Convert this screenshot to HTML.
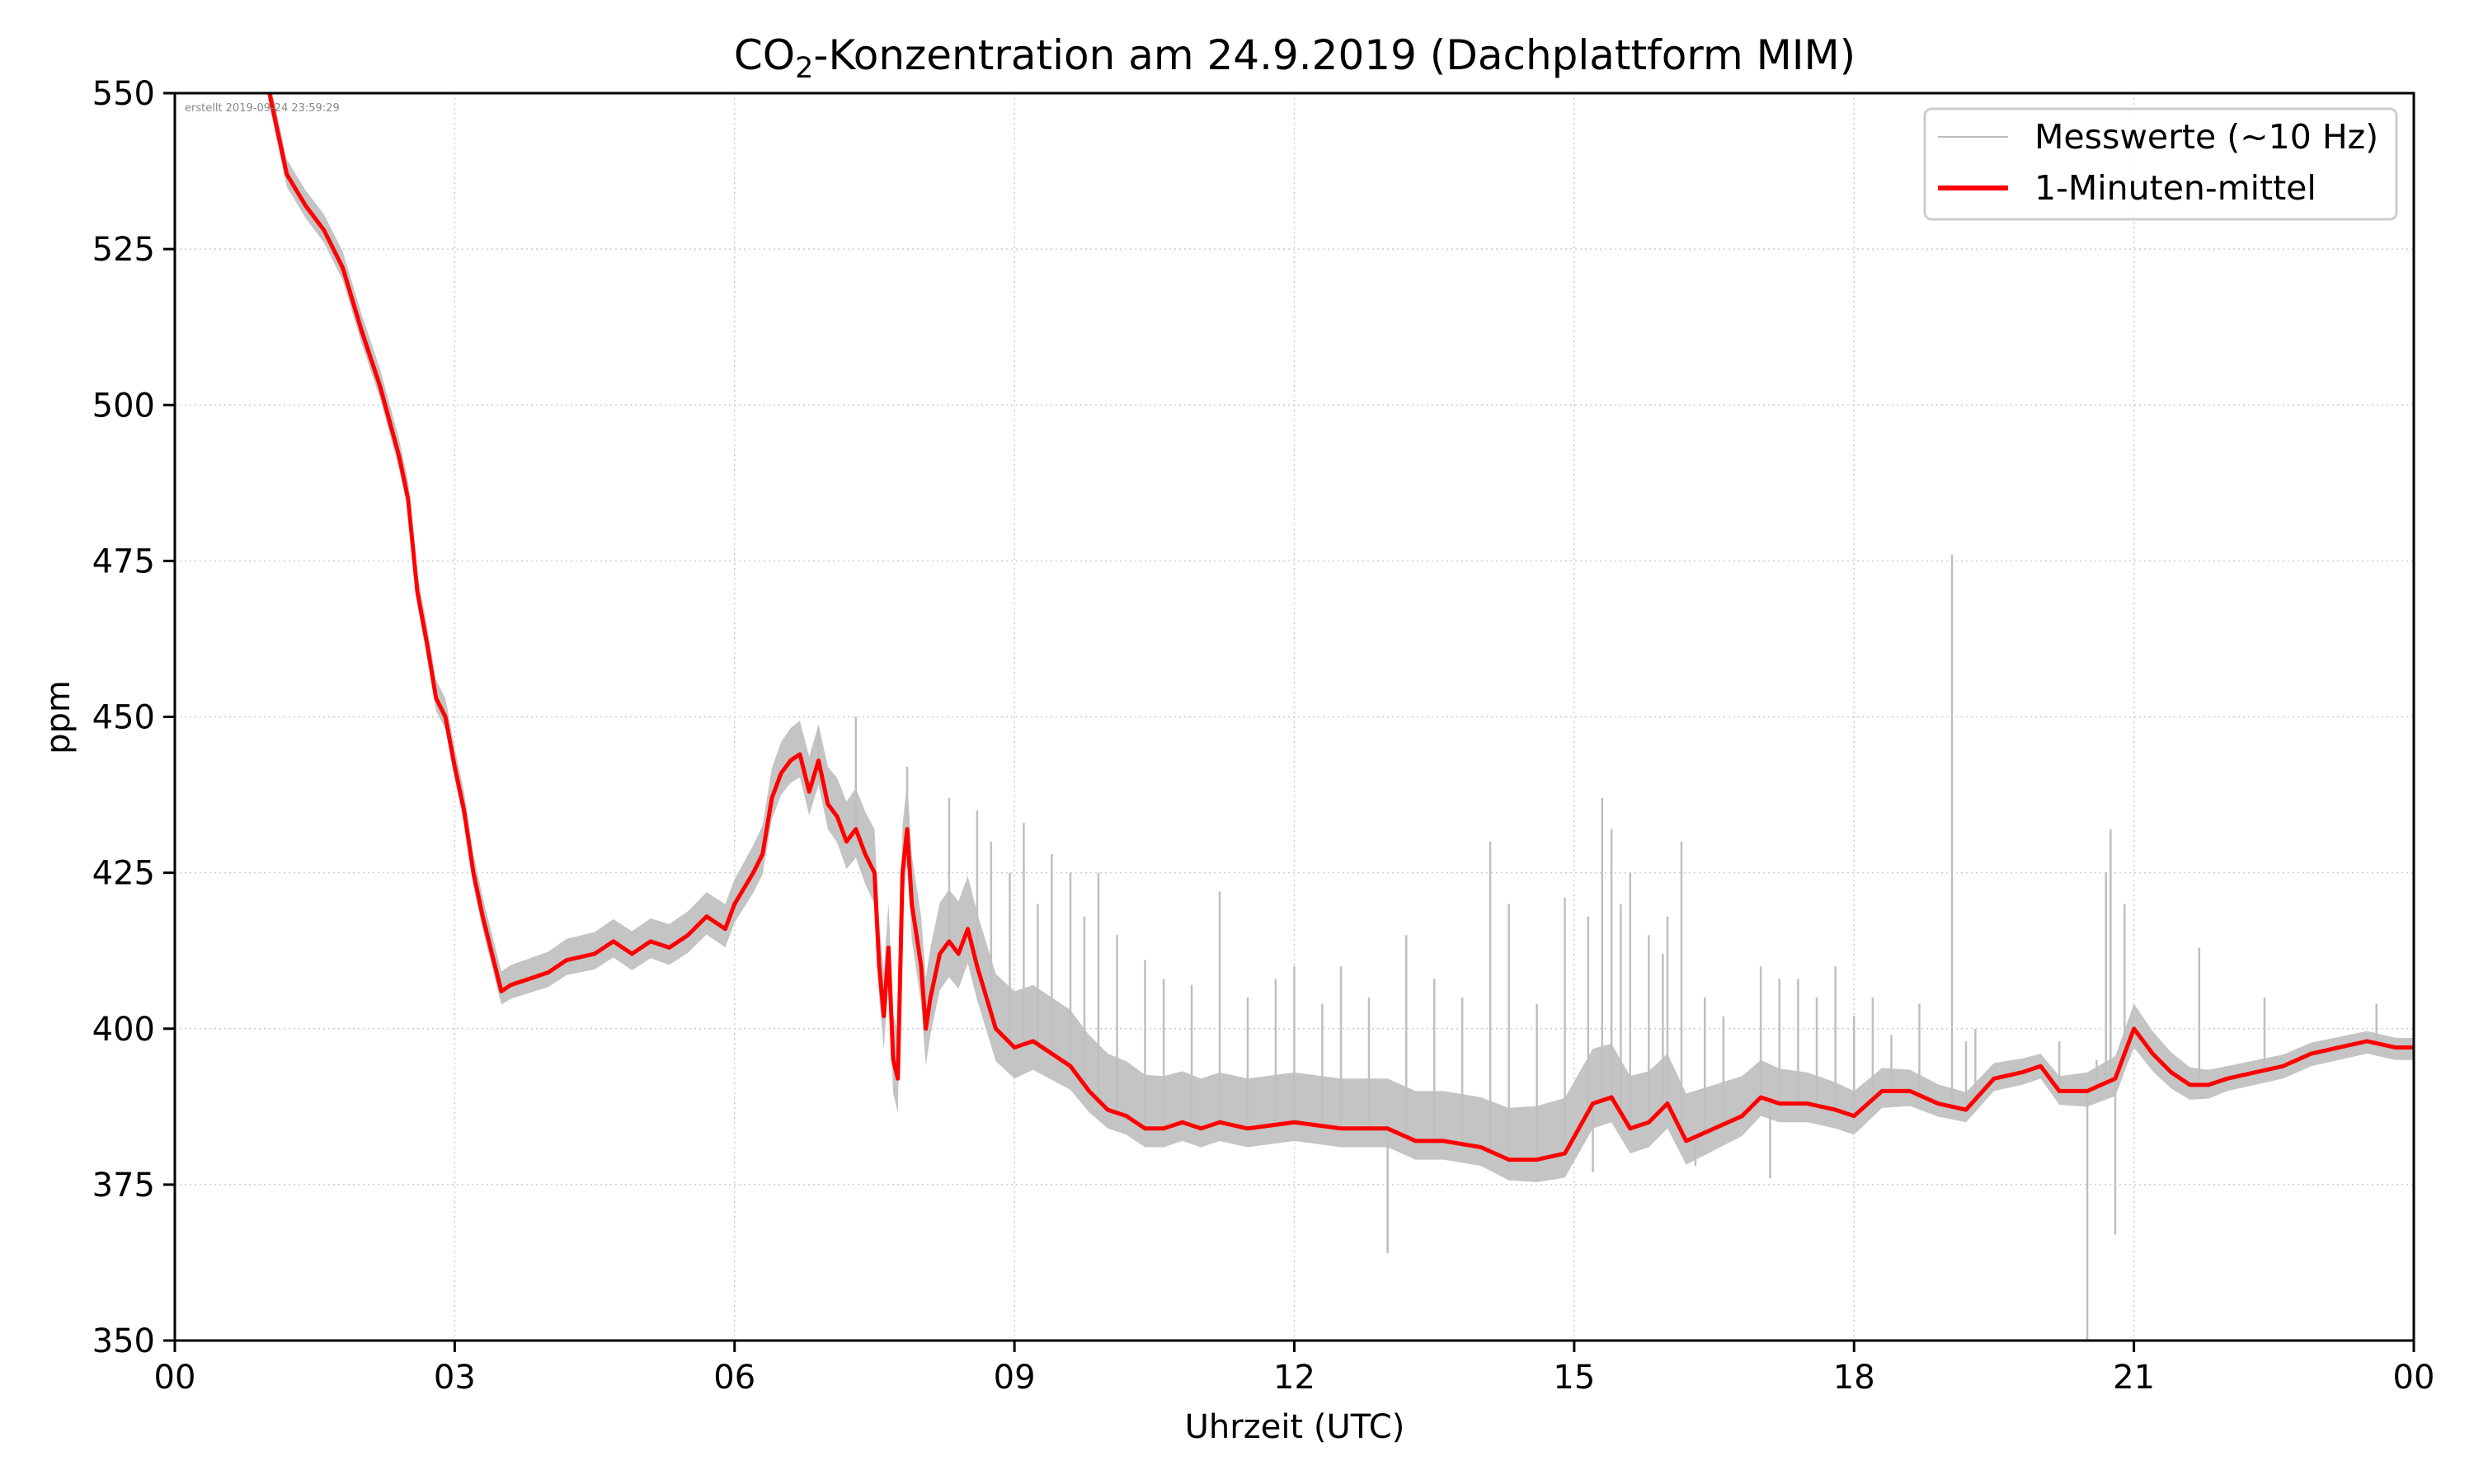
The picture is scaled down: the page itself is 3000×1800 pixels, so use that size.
<!DOCTYPE html>
<html><head><meta charset="utf-8"><style>
body{margin:0;background:#fff}
svg{display:block;font-family:"DejaVu Sans","Liberation Sans",sans-serif}
</style></head><body>
<svg id="chart" width="3000" height="1800" viewBox="0 0 3000 1800" xmlns="http://www.w3.org/2000/svg">
<rect width="3000" height="1800" fill="#fff"/>
<g id="grid"></g>
<g id="plot"></g>
<rect x="212" y="113" width="2715" height="1513" fill="none" stroke="#000" stroke-width="3"/>
<g id="ticks"></g>
<text x="1570" y="84" font-size="50" text-anchor="middle">CO<tspan font-size="35" dy="10">2</tspan><tspan dy="-10">-Konzentration am 24.9.2019 (Dachplattform MIM)</tspan></text>
<text x="1570" y="1744" font-size="40" text-anchor="middle">Uhrzeit (UTC)</text>
<text transform="translate(84,870) rotate(-90)" font-size="40" text-anchor="middle">ppm</text>
<text x="224" y="135" font-size="13" fill="#888">erstellt 2019-09-24 23:59:29</text>
<g>
<rect x="2334" y="132" width="572" height="134" rx="8" fill="#fff" fill-opacity="0.85" stroke="#ccc" stroke-width="3"/>
<line x1="2350" y1="166" x2="2435" y2="166" stroke="#bfbfbf" stroke-width="2"/>
<text x="2467" y="180" font-size="41">Messwerte (~10 Hz)</text>
<line x1="2350" y1="228" x2="2435" y2="228" stroke="#f00" stroke-width="6"/>
<text x="2467" y="242" font-size="41">1-Minuten-mittel</text>
</g>
</svg>
<script>
const meanHours=[1.0,1.2,1.4,1.6,1.8,2.0,2.2,2.4,2.5,2.6,2.7,2.8,2.9,3.0,3.1,3.2,3.3,3.4,3.5,3.6,3.8,4.0,4.2,4.5,4.7,4.9,5.1,5.3,5.5,5.7,5.9,6.0,6.2,6.3,6.4,6.5,6.6,6.7,6.8,6.9,7.0,7.1,7.2,7.3,7.4,7.5,7.55,7.6,7.65,7.7,7.75,7.8,7.85,7.9,8.0,8.05,8.1,8.2,8.3,8.4,8.5,8.6,8.7,8.8,9.0,9.2,9.4,9.6,9.8,10.0,10.2,10.4,10.6,10.8,11.0,11.2,11.5,12.0,12.5,13.0,13.3,13.6,14.0,14.3,14.6,14.9,15.2,15.4,15.6,15.8,16.0,16.2,16.5,16.8,17.0,17.2,17.5,17.8,18.0,18.3,18.6,18.9,19.2,19.5,19.8,20.0,20.2,20.5,20.8,21.0,21.2,21.4,21.6,21.8,22.0,22.3,22.6,22.9,23.2,23.5,23.8,24.0];
const meanPpm=[551,537,532,528,522,512,503,492,485,470,462,453,450,442,435,425,418,412,406,407,408,409,411,412,414,412,414,413,415,418,416,420,425,428,437,441,443,444,438,443,436,434,430,432,428,425,410,402,413,395,392,425,432,420,410,400,405,412,414,412,416,410,405,400,397,398,396,394,390,387,386,384,384,385,384,385,384,385,384,384,382,382,381,379,379,380,388,389,384,385,388,382,384,386,389,388,388,387,386,390,390,388,387,392,393,394,390,390,392,400,396,393,391,391,392,393,394,396,397,398,397,397];
const spreadHours=[0,3,6,7,8,9,10,11,12,13,14,15,16,17,18,19,20,21,22,24];
const spreadUp=[2,3,4,6,8,9,9,8,8,8,8,9,8,6,4,3,2,4,2,1.5];
const spreadDown=[2,2,3,4,6,5,3,3,3,3,3,4,4,3,3,2,2,3,2,2];
const spikeHours=[6.9,7.3,7.85,8.3,8.6,8.75,8.95,9.1,9.25,9.4,9.6,9.75,9.9,10.1,10.4,10.6,10.9,11.2,11.5,11.8,12.0,12.3,12.5,12.8,13.0,13.2,13.5,13.8,14.1,14.3,14.6,14.9,15.15,15.2,15.3,15.4,15.5,15.6,15.8,15.95,16.0,16.15,16.3,16.4,16.6,17.0,17.1,17.2,17.4,17.6,17.8,18.0,18.2,18.4,18.7,19.05,19.2,19.3,20.2,20.5,20.6,20.7,20.75,20.8,20.9,21.7,22.4,23.6];
const spikePpm=[448,450,442,437,435,430,425,433,420,428,425,418,425,415,411,408,407,422,405,408,410,404,410,405,364,415,408,405,430,420,404,421,418,377,437,432,420,425,415,412,418,430,378,405,402,410,376,408,408,405,410,402,405,399,404,476,398,400,398,350,395,425,432,367,420,413,405,404];
const xTicks=[0,3,6,9,12,15,18,21,24];
const xTickLabels=["00","03","06","09","12","15","18","21","00"];
const yTicks=[350,375,400,425,450,475,500,525,550];

const L=212,R=2927,T=113,B=1626;
const sx=h=>L+h/24*(R-L);
const sy=v=>B-(v-350)/200*(B-T);
const NS="http://www.w3.org/2000/svg";
function mk(tag,attrs,parent){const e=document.createElementNS(NS,tag);for(const k in attrs)e.setAttribute(k,attrs[k]);parent.appendChild(e);return e;}
function interp(xs,ys,x){if(x<=xs[0])return ys[0];for(let i=1;i<xs.length;i++){if(x<=xs[i]){const t=(x-xs[i-1])/(xs[i]-xs[i-1]);return ys[i-1]+t*(ys[i]-ys[i-1]);}}return ys[ys.length-1];}
const grid=document.getElementById('grid'),plot=document.getElementById('plot'),ticks=document.getElementById('ticks');
xTicks.forEach((h,i)=>{
  if(i>0&&i<xTicks.length-1){const g=mk('line',{x1:sx(h),x2:sx(h),y1:T,y2:B,stroke:'#ccc','stroke-width':1.5,'stroke-dasharray':'2,4'},grid);
  
  }
  const t=mk('line',{x1:sx(h),x2:sx(h),y1:B,y2:B+14,stroke:'#000','stroke-width':3},ticks);
  
  
  const l=mk('text',{x:sx(h),y:B+58,'font-size':40,'text-anchor':'middle'},ticks);l.textContent=xTickLabels[i];
  
  
});
yTicks.forEach(v=>{
  if(v>350&&v<550){const g=mk('line',{x1:L,x2:R,y1:sy(v),y2:sy(v),stroke:'#ccc','stroke-width':1.5,'stroke-dasharray':'2,4'},grid);
  
  }
  const t=mk('line',{x1:L-14,x2:L,y1:sy(v),y2:sy(v),stroke:'#000','stroke-width':3},ticks);
  
  
  const l=mk('text',{x:L-24,y:sy(v)+14,'font-size':40,'text-anchor':'end'},ticks);l.textContent=v;
  
  
});
const defs=mk('defs',{},plot);const cp=mk('clipPath',{id:'clip'},defs);mk('rect',{x:L,y:T,width:R-L,height:B-T},cp);
const g=mk('g',{'clip-path':'url(#clip)'},plot);
let up=[],dn=[];
meanHours.forEach((h,i)=>{up.push(sx(h)+','+sy(meanPpm[i]+interp(spreadHours,spreadUp,h)));dn.push(sx(h)+','+sy(meanPpm[i]-interp(spreadHours,spreadDown,h)));});
const band=mk('polygon',{points:up.concat(dn.reverse()).join(' '),fill:'#c4c4c4'},g);


spikeHours.forEach((h,i)=>{
  const base=interp(meanHours,meanPpm,h);
  const s=mk('line',{x1:sx(h),x2:sx(h),y1:sy(base),y2:sy(spikePpm[i]),stroke:'#bfbfbf','stroke-width':2.5},g);
  
  
});
const line=mk('polyline',{points:meanHours.map((h,i)=>sx(h)+','+sy(meanPpm[i])).join(' '),fill:'none',stroke:'#f00','stroke-width':5,'stroke-linejoin':'round'},g);


</script>
</body></html>
